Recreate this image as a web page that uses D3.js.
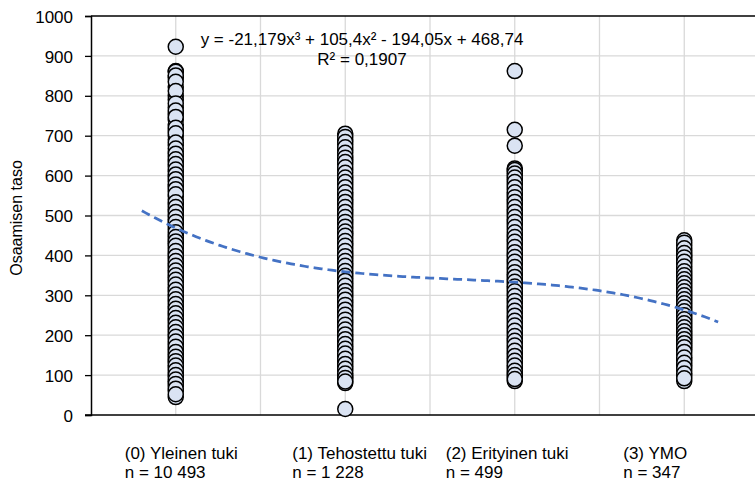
<!DOCTYPE html>
<html>
<head>
<meta charset="utf-8">
<script src="https://cdn.jsdelivr.net/npm/d3@7"></script>
<style>
  body { margin: 0; background: #fff; }
  svg text { font-family: "Liberation Sans", Arial, sans-serif; fill: #000; }
</style>
</head>
<body>
<div id="chart"></div>
<script>
const categories = ['(0) Yleinen tuki', '(1) Tehostettu tuki', '(2) Erityinen tuki', '(3) YMO'];
const counts = ['n = 10 493', 'n = 1 228', 'n = 499', 'n = 347'];
const yTicks = [0, 100, 200, 300, 400, 500, 600, 700, 800, 900, 1000];

// values (dense stacks of markers)
const group0 = [923, 862, 860, 845, 822, 800, 790, 770, 755, 740, 728, 712, 700, 690, 676, 660, 648, 636, 622, 610,
  598, 585, 572, 560, 548, 540, 528, 515, 502, 490, 478, 465, 452, 440, 430, 418, 405, 392, 380, 368,
  356, 345, 333, 320, 308, 296, 285, 272, 260, 250, 238, 225, 214, 202, 190, 178, 165, 152, 140, 130,
  118, 106, 95, 84, 72, 60, 45,
  851, 835, 812, 781, 763, 747, 720, 706, 683, 668, 655, 641, 629, 615, 603, 591, 578, 566, 553, 533,
  521, 509, 496, 484, 471, 458, 446, 435, 424, 411, 398, 386, 374, 362, 350, 339, 327, 314, 302, 290,
  278, 266, 255, 243, 231, 220, 208, 196, 184, 171, 158, 146, 135, 124, 112, 100, 89, 78, 66, 52];
const group1 = [705, 690, 678, 665, 650, 640, 628, 615, 600, 590, 578, 565, 552, 540, 528, 515, 503, 490, 478, 466,
  455, 443, 430, 418, 405, 392, 380, 368, 355, 343, 330, 318, 305, 295, 283, 270, 258, 245, 233, 220,
  208, 196, 185, 172, 160, 148, 135, 122, 110, 98, 88, 80, 15,
  697, 684, 671, 657, 645, 634, 621, 607, 595, 584, 571, 558, 546, 534, 521, 509, 496, 484, 472, 460,
  449, 436, 424, 411, 398, 386, 374, 361, 349, 336, 324, 311, 300, 289, 276, 264, 251, 239, 226, 214,
  202, 190, 178, 166, 154, 141, 128, 116, 104, 93, 84];
const group2 = [862, 715, 675, 618, 610, 600, 590, 578, 565, 552, 540, 528, 515, 503, 490, 478, 465, 452, 440, 428,
  415, 402, 390, 378, 365, 352, 340, 328, 316, 304, 292, 280, 268, 255, 243, 230, 218, 205, 192, 180,
  168, 155, 142, 130, 118, 105, 95, 85,
  614, 605, 595, 584, 571, 558, 546, 534, 521, 509, 496, 484, 471, 458, 446, 434, 421, 408, 396, 384,
  371, 358, 346, 334, 322, 310, 298, 286, 274, 261, 249, 236, 224, 211, 198, 186, 174, 161, 148, 136,
  124, 111, 100, 90];
const group3 = [438, 425, 412, 400, 390, 378, 366, 355, 345, 335, 325, 315, 305, 295, 285, 275, 265, 255, 245, 235,
  225, 215, 205, 195, 185, 175, 165, 150, 138, 125, 110, 98, 85,
  432, 418, 406, 395, 384, 372, 360, 350, 340, 330, 320, 310, 300, 290, 280, 270, 260, 250, 240, 230,
  220, 210, 200, 190, 180, 170, 158, 144, 131, 118, 104, 92];

// cubic trendline y = a x^3 + b x^2 + c x + d
const trendCoef = [-21.179, 105.4, -194.05, 468.74];
const trendLabel = ['y = -21,179x³ + 105,4x² - 194,05x + 468,74', 'R² = 0,1907'];

const width = 755, height = 481;
const groups = [group0, group1, group2, group3];

const svg = d3.select('#chart').append('svg')
    .attr('width', width)
    .attr('height', height);

const x = d3.scaleLinear().domain([-0.5, 3.5]).range([91, 769]);
const y = d3.scaleLinear().domain([0, 1000]).range([415, 16]);

// gridlines
svg.append('g').selectAll('line')
    .data(yTicks.slice(1, -1))
    .enter().append('line')
      .attr('x1', x(-0.5)).attr('x2', width)
      .attr('y1', d => y(d)).attr('y2', d => y(d))
      .attr('stroke', '#d9d9d9').attr('stroke-width', 1.3);

svg.append('g').selectAll('line')
    .data(d3.range(0, 3.6, 0.5))
    .enter().append('line')
      .attr('x1', d => x(d)).attr('x2', d => x(d))
      .attr('y1', y(1000)).attr('y2', y(0))
      .attr('stroke', '#d9d9d9').attr('stroke-width', 1.3);

svg.append('line')
    .attr('x1', x(-0.5)).attr('x2', width)
    .attr('y1', y(1000)).attr('y2', y(1000))
    .attr('stroke', '#000').attr('stroke-width', 1.3);

// y axis
const yAxis = d3.axisLeft(y).tickValues(yTicks).tickFormat(d3.format('d')).tickSize(6).tickPadding(12);
const gy = svg.append('g')
    .attr('transform', 'translate(' + x(-0.5) + ',0)')
    .call(yAxis);
gy.select('.domain').attr('stroke', '#000').attr('stroke-width', 1.5);
gy.selectAll('.tick line').attr('stroke', '#000').attr('stroke-width', 1.3);
gy.selectAll('.tick text')
    .style('font-size', '17px')
    .attr('dy', '0.36em');

svg.append('line')
    .attr('x1', x(-0.5) - 6).attr('x2', width)
    .attr('y1', y(0)).attr('y2', y(0))
    .attr('stroke', '#000').attr('stroke-width', 1.5);

svg.append('text')
    .attr('transform', 'translate(22,218) rotate(-90)')
    .attr('text-anchor', 'middle')
    .style('font-size', '16px')
    .text('Osaamisen taso');

// trendline
const poly = (t) => trendCoef[0] * t * t * t + trendCoef[1] * t * t + trendCoef[2] * t + trendCoef[3];
const line = d3.line().x(d => x(d)).y(d => y(poly(d)));
const trendX = d3.range(-0.2, 3.2001, 0.02);

// markers
groups.forEach((vals, gi) => {
  svg.append('g').selectAll('circle')
      .data(vals)
      .enter().append('circle')
        .attr('cx', x(gi))
        .attr('cy', d => y(d))
        .attr('r', 7.5)
        .attr('fill', '#dae3f3')
        .attr('stroke', '#000')
        .attr('stroke-width', 1.5);
});

svg.append('path')
    .datum(trendX)
    .attr('d', line)
    .attr('fill', 'none')
    .attr('stroke', '#4472c4')
    .attr('stroke-width', 2.75)
    .attr('stroke-dasharray', '9,5');

// equation
svg.append('g').selectAll('text')
    .data(trendLabel)
    .enter().append('text')
      .attr('x', 362)
      .attr('y', (d, i) => 45 + i * 20)
      .attr('text-anchor', 'middle')
      .style('font-size', '17px')
      .text(d => d);

// category labels
const labelOffset = [-51, -53, -69, -61];
categories.forEach((c, i) => {
  const t = svg.append('text')
      .attr('x', x(i) + labelOffset[i])
      .attr('y', 459)
      .style('font-size', '17px');
  t.append('tspan').text(c);
  t.append('tspan').attr('x', x(i) + labelOffset[i]).attr('dy', 19).text(counts[i]);
});
</script>
</body>
</html>
